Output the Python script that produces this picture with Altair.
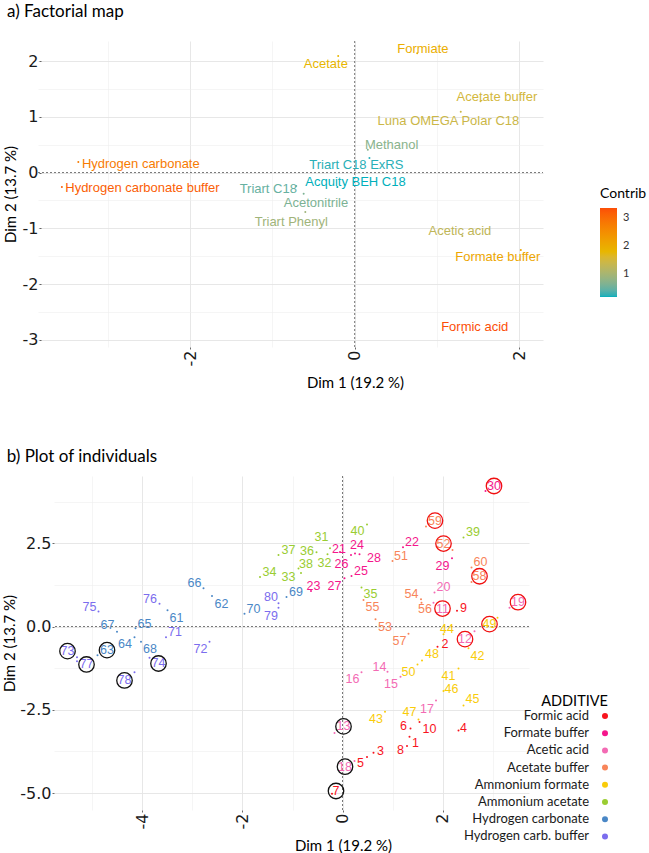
import altair as alt
import pandas as pd

# ---------------- a) Factorial map : categories of the active variables ----------------
var_name = [
    "Acetate", "Formiate", "Acetate buffer", "Luna OMEGA Polar C18", "Methanol",
    "Triart C18 ExRS", "Acquity BEH C18", "Triart C18", "Acetonitrile", "Triart Phenyl",
    "Hydrogen carbonate", "Hydrogen carbonate buffer", "Acetic acid", "Formate buffer",
    "Formic acid",
]
var_dim1 = [-0.20, 0.76, 1.53, 1.29, 0.16, 0.18, -0.21, -0.71, -0.62, -0.60,
            -3.36, -3.56, 1.31, 2.02, 1.32]
var_dim2 = [2.09, 2.14, 1.28, 1.09, 0.41, 0.26, -0.26, -0.24, -0.38, -0.71,
            0.19, -0.26, -1.14, -1.39, -2.87]
# repelled label positions
var_lab1 = [-0.35, 0.83, 1.73, 1.14, 0.45, 0.02, 0.01, -1.05, -0.47, -0.77,
            -2.60, -2.58, 1.28, 1.74, 1.46]
var_lab2 = [1.95, 2.22, 1.36, 0.92, 0.49, 0.14, -0.17, -0.29, -0.54, -0.88,
            0.15, -0.28, -1.04, -1.51, -2.77]
var_contrib = [1.80, 1.95, 1.50, 1.40, 0.70, 0.20, 0.15, 0.45, 0.60, 0.90,
               2.80, 3.20, 1.25, 2.10, 3.38]

contrib_cols = ["#00AFBB", "#E7B800", "#FC4E07"]

# ---------------- b) Plot of individuals ----------------
ind_id = list(range(1, 81))
ind_additive = (["Formic acid"] * 10 + ["Acetic acid"] * 10 + ["Formate buffer"] * 10
                + ["Ammonium acetate"] * 10 + ["Ammonium formate"] * 10
                + ["Acetate buffer"] * 10 + ["Hydrogen carbonate"] * 10
                + ["Hydrogen carb. buffer"] * 10)
ind_dim1 = [1.34, 1.90, 0.62, 2.32, 0.49, 1.36, -0.21, 1.29, 2.29, 1.54,
            1.82, 2.64, -0.16, 0.90, 1.16, 0.38, 1.87, 0.24, 3.34, 1.84,
            -0.05, 1.21, -0.63, 0.25, 0.18, 0.17, 0.04, 0.34, 2.19, 2.86,
            -0.25, -0.30, -0.83, -1.65, 0.38, -0.52, -1.28, -0.88, 2.42, 0.49,
            2.32, 2.52, 0.85, 2.02, 2.42, 2.02, 1.52, 1.59, 3.10, 1.50,
            1.00, 2.20, 0.66, 1.57, 0.42, 1.58, 1.32, 2.58, 1.67, 2.58,
            -3.50, -2.61, -4.90, -4.16, -4.14, -2.78, -4.51, -4.03, -1.12, -1.96,
            -3.53, -2.66, -5.31, -3.86, -4.88, -3.66, -5.31, -4.16, -1.28, -1.28]
ind_dim2 = [-3.31, -0.61, -3.79, -3.12, -3.92, -3.06, -5.02, -3.59, 0.47, -2.87,
            0.71, -0.14, -3.20, -1.36, -1.51, -1.37, -2.22, -4.04, 0.56, 1.02,
            2.24, 2.38, 1.07, 2.19, 1.52, 2.15, 1.45, 2.17, 2.05, 4.07,
            2.35, 2.17, 1.61, 1.49, 1.17, 2.23, 2.15, 1.74, 2.67, 3.06,
            -1.26, -0.65, -2.56, -0.23, -2.37, -1.94, -2.79, -1.02, 0.26, -1.14,
            1.97, 2.30, 0.22, 0.82, 0.80, 0.71, -0.22, 1.34, 3.00, 1.77,
            0.49, 0.92, -0.86, -0.32, -0.05, 1.15, -0.16, -0.46, 0.89, 0.38,
            -0.32, -0.46, -0.92, -0.94, 0.45, 0.68, -1.04, -1.37, 0.56, 0.70]
ind_lab1 = [1.46, 2.05, 0.76, 2.42, 0.36, 1.22, -0.13, 1.16, 2.42, 1.74,
            2.00, 2.45, 0.02, 0.74, 0.97, 0.20, 1.69, 0.05, 3.51, 2.02,
            -0.07, 1.39, -0.58, 0.29, 0.37, -0.02, -0.16, 0.63, 2.00, 3.03,
            -0.42, -0.36, -1.08, -1.46, 0.56, -0.71, -1.08, -0.73, 2.61, 0.30,
            2.12, 2.70, 0.67, 2.09, 2.60, 2.18, 1.34, 1.79, 2.94, 1.32,
            1.17, 2.02, 0.85, 1.38, 0.60, 1.65, 1.14, 2.74, 1.85, 2.76,
            -3.32, -2.42, -4.71, -4.35, -3.96, -2.96, -4.70, -3.85, -0.93, -1.78,
            -3.35, -2.84, -5.50, -3.68, -5.06, -3.85, -5.12, -4.36, -1.43, -1.43]
ind_lab2 = [-3.49, -0.53, -3.74, -3.04, -4.09, -2.99, -4.94, -3.72, 0.56, -3.07,
            0.54, -0.38, -3.00, -1.21, -1.72, -1.59, -2.47, -4.21, 0.73, 1.18,
            2.34, 2.53, 1.22, 2.45, 1.67, 1.89, 1.22, 2.06, 1.82, 4.22,
            2.69, 1.92, 1.50, 1.64, 0.99, 2.27, 2.30, 1.87, 2.83, 2.86,
            -1.49, -0.89, -2.79, -0.08, -2.19, -1.87, -2.57, -0.83, 0.07, -1.36,
            2.12, 2.49, -0.01, 0.99, 0.59, 0.52, -0.44, 1.51, 3.18, 1.94,
            0.26, 0.69, -0.71, -0.53, 0.08, 1.30, 0.05, -0.67, 1.05, 0.54,
            -0.17, -0.68, -0.74, -1.11, 0.60, 0.82, -1.14, -1.62, 0.32, 0.89]

# highlighted individuals
ring_red = [30, 59, 52, 58, 11, 19, 12, 49]
ring_black = [13, 18, 7, 73, 63, 77, 78, 74]

additive_levels = ["Formic acid", "Formate buffer", "Acetic acid", "Acetate buffer",
                   "Ammonium formate", "Ammonium acetate", "Hydrogen carbonate",
                   "Hydrogen carb. buffer"]
additive_colors = ["#F8141E", "#F5168C", "#F36BB4", "#F8855A",
                   "#F9CC0A", "#9ACD32", "#4A87C6", "#7B6DEE"]

# ---------------- tables ----------------
top_df = pd.DataFrame({"name": var_name, "dim1": var_dim1, "dim2": var_dim2,
                       "lab1": var_lab1, "lab2": var_lab2, "contrib": var_contrib})
ring = ["red" if i in ring_red else ("black" if i in ring_black else "") for i in ind_id]
bot_df = pd.DataFrame({"id": [str(i) for i in ind_id], "additive": ind_additive,
                       "dim1": ind_dim1, "dim2": ind_dim2,
                       "lab1": ind_lab1, "lab2": ind_lab2, "ring": ring})
zero_df = pd.DataFrame({"zero": [0.0]})

GRID_MAJOR = "#E4E4E4"
GRID_MINOR = "#EFEFEF"
TICK_FONT = "DejaVu Sans"
TEXT_FONT = "Lato"


def grid_axis(values, major_test, label_expr, title, angle=None, title_pad=4, **extra):
    minor = f"!({major_test})"
    kw = dict(
        values=values, labelExpr=label_expr, title=title, grid=True,
        gridColor={"condition": {"test": minor, "value": GRID_MINOR}, "value": GRID_MAJOR},
        gridWidth={"condition": {"test": minor, "value": 0.6}, "value": 0.9},
        tickOpacity={"condition": {"test": minor, "value": 0}, "value": 1},
        ticks=True, tickSize=2, tickColor="#444444", tickWidth=0.8,
        domain=False, labelFont=TICK_FONT, labelFontSize=16, labelColor="#1A1A1A",
        labelPadding=1, labelOverlap=False, labelFlush=False,
        titleFont=TEXT_FONT, titleFontSize=15, titleFontWeight="normal",
        titleColor="black", titlePadding=title_pad,
    )
    if angle is not None:
        kw["labelAngle"] = angle
    kw.update(extra)
    return alt.Axis(**kw)


def panel_title(text, offset):
    return alt.TitleParams(text, anchor="start", font=TEXT_FONT, fontSize=17,
                           fontWeight="normal", color="black", baseline="top",
                           offset=offset, dx=4)


# ---------------- panel a ----------------
top_xdom = [-3.85, 2.29]
ax_top_x = grid_axis([-3, -2, -1, 0, 1, 2], "datum.value % 2 === 0",
                     "datum.value % 2 === 0 ? toString(datum.value) : ''",
                     "Dim 1 (19.2 %)", angle=270,
                     titleX=301, titleY=35, titleBaseline="middle", titleAlign="center")
ax_top_y = grid_axis([-3, -2.5, -2, -1.5, -1, -0.5, 0, 0.5, 1, 1.5, 2],
                     "datum.value % 1 === 0",
                     "datum.value % 1 === 0 ? toString(datum.value) : ''",
                     "Dim 2 (13.7 %)", title_pad=4, offset=13)
# the panel's x range reaches a little left of the shared column edge
sx_top = alt.Scale(domain=top_xdom, range=[-16, 489], nice=False, zero=False)
sy_top = alt.Scale(domain=[-3.13, 2.36], nice=False, zero=False)

cmin, cmax = min(var_contrib), max(var_contrib)
contrib_scale = alt.Scale(domain=[cmin, (cmin + cmax) / 2, cmax], range=contrib_cols,
                          interpolate="lab")
contrib_legend = alt.Legend(
    title="Contrib", orient="none", legendX=546, legendY=146, values=[1, 2, 3],
    gradientLength=89, gradientThickness=17, gradientStrokeWidth=0,
    labelFont=TEXT_FONT, labelFontSize=11, labelColor="#333333", labelOffset=6,
    titleFont=TEXT_FONT, titleFontSize=14, titleFontWeight="normal", titleColor="black",
    titlePadding=7,
)
contrib_color = alt.Color("contrib:Q", scale=contrib_scale, legend=contrib_legend)

top_vline = alt.Chart(zero_df).mark_rule(color="#555555", strokeDash=[2, 2], strokeWidth=0.8).encode(
    x=alt.X("zero:Q", scale=sx_top, axis=ax_top_x, title="Dim 1 (19.2 %)"))
top_hline = alt.Chart(zero_df).mark_rule(color="#555555", strokeDash=[2, 2], strokeWidth=0.8).encode(
    x=alt.datum(top_xdom[0], scale=sx_top, axis=ax_top_x, title="Dim 1 (19.2 %)"),
    x2=alt.datum(top_xdom[1]),
    y=alt.Y("zero:Q", scale=sy_top, axis=ax_top_y, title="Dim 2 (13.7 %)"))
top_points = alt.Chart(top_df).mark_circle(size=4, opacity=1).encode(
    x=alt.X("dim1:Q", scale=sx_top, axis=ax_top_x, title="Dim 1 (19.2 %)"),
    y=alt.Y("dim2:Q", scale=sy_top, axis=ax_top_y, title="Dim 2 (13.7 %)"),
    color=contrib_color)
top_labels = alt.Chart(top_df).mark_text(font="Liberation Sans", fontSize=13).encode(
    x=alt.X("lab1:Q", scale=sx_top, axis=ax_top_x, title="Dim 1 (19.2 %)"),
    y=alt.Y("lab2:Q", scale=sy_top, axis=ax_top_y, title="Dim 2 (13.7 %)"),
    text="name:N", color=contrib_color)

top = alt.layer(top_vline, top_hline, top_points, top_labels).properties(
    width=489, height=306, title=panel_title("a) Factorial map", 20))

# ---------------- panel b ----------------
ax_bot_x = grid_axis([-5, -4, -3, -2, -1, 0, 1, 2, 3], "datum.value % 2 === 0",
                     "datum.value % 2 === 0 ? toString(datum.value) : ''",
                     "Dim 1 (19.2 %)", angle=270,
                     titleX=289, titleY=35, titleBaseline="middle", titleAlign="center")
ax_bot_y = grid_axis([-5, -3.75, -2.5, -1.25, 0, 1.25, 2.5, 3.75],
                     "datum.value % 2.5 === 0",
                     "datum.value % 2.5 === 0 ? replace(format(datum.value, '.1f'), '\u2212', '-') : ''",
                     "Dim 2 (13.7 %)", title_pad=2)
sx_bot = alt.Scale(domain=[-5.77, 3.73], nice=False, zero=False)
sy_bot = alt.Scale(domain=[-5.51, 4.52], nice=False, zero=False)

# legend keys drawn to the right of right-aligned labels
add_legend = alt.Legend(
    title="ADDITIVE\u00a0\u00a0\u00a0", orient="none", legendX=417, legendY=219,
    symbolType="circle", symbolSize=36, symbolStrokeWidth=0,
    labelAlign="right", labelOffset={"expr": "-22.5"}, symbolOffset=127.5,
    labelFont=TEXT_FONT, labelFontSize=13, labelColor="#1A1A1A",
    titleFont=TEXT_FONT, titleFontSize=14.5, titleFontWeight="normal", titleColor="black",
    titleAnchor="end", titlePadding=0, rowPadding=3.2,
)
add_color = alt.Color("additive:N", scale=alt.Scale(domain=additive_levels, range=additive_colors),
                      legend=add_legend)

bot_vline = alt.Chart(zero_df).mark_rule(color="#555555", strokeDash=[2, 2], strokeWidth=0.8).encode(
    x=alt.X("zero:Q", scale=sx_bot, axis=ax_bot_x, title="Dim 1 (19.2 %)"))
bot_hline = alt.Chart(zero_df).mark_rule(color="#555555", strokeDash=[2, 2], strokeWidth=0.8).encode(
    y=alt.Y("zero:Q", scale=sy_bot, axis=ax_bot_y, title="Dim 2 (13.7 %)"))
bot_points = alt.Chart(bot_df).mark_circle(size=4, opacity=1).encode(
    x=alt.X("dim1:Q", scale=sx_bot, axis=ax_bot_x, title="Dim 1 (19.2 %)"),
    y=alt.Y("dim2:Q", scale=sy_bot, axis=ax_bot_y, title="Dim 2 (13.7 %)"),
    color=add_color)
bot_labels = alt.Chart(bot_df).mark_text(font="Liberation Sans", fontSize=12.5).encode(
    x=alt.X("lab1:Q", scale=sx_bot, axis=ax_bot_x, title="Dim 1 (19.2 %)"),
    y=alt.Y("lab2:Q", scale=sy_bot, axis=ax_bot_y, title="Dim 2 (13.7 %)"),
    text="id:N", color=add_color)
bot_rings = alt.Chart(bot_df).transform_filter("datum.ring != ''").mark_point(
    shape="circle", size=240, strokeWidth=1.3, filled=False, opacity=1).encode(
    x=alt.X("lab1:Q", scale=sx_bot, axis=ax_bot_x, title="Dim 1 (19.2 %)"),
    y=alt.Y("lab2:Q", scale=sy_bot, axis=ax_bot_y, title="Dim 2 (13.7 %)"),
    stroke=alt.Stroke("ring:N", scale=alt.Scale(domain=["red", "black"], range=["#F01010", "#111111"]),
                      legend=None))

bottom = alt.layer(bot_vline, bot_hline, bot_points, bot_labels, bot_rings).properties(
    width=475, height=334, title=panel_title("b) Plot of individuals", 9.4))

chart = alt.vconcat(top, bottom, spacing=58).properties(
    padding={"left": 2, "top": 2, "right": 0, "bottom": 0},
    background="white",
).configure_view(stroke=None)

chart.save("out.html", embed_options={"renderer": "svg", "actions": False})
